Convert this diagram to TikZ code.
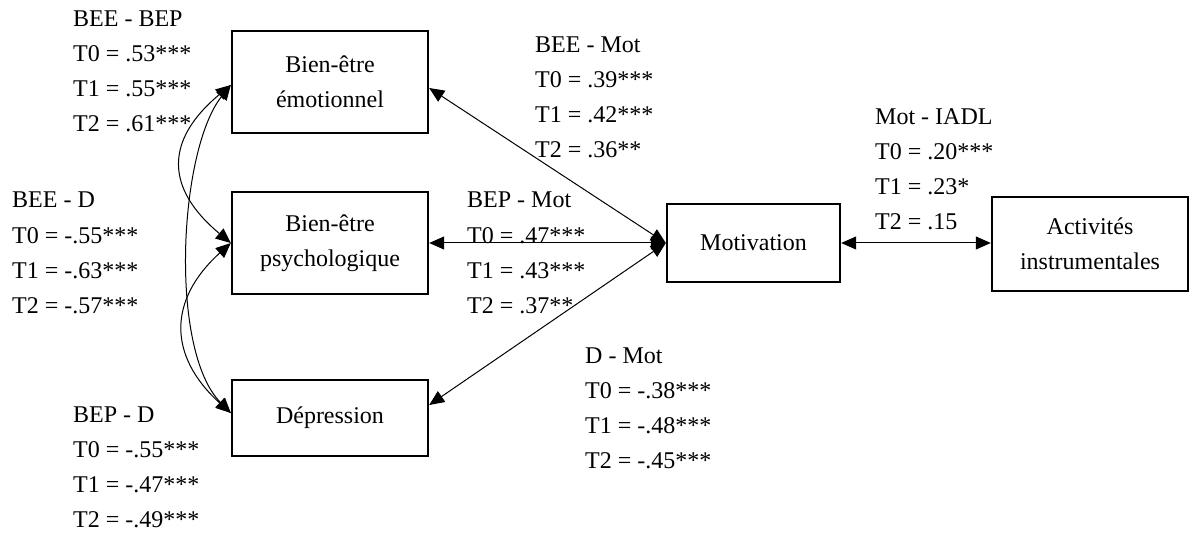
\documentclass[tikz,border=0pt]{standalone}
\usepackage{fontspec}
\setmainfont{Liberation Serif}
\usetikzlibrary{arrows.meta}
\begin{document}
\begin{tikzpicture}[x=1pt,y=-1pt,
  box/.style={draw,line width=2.4pt,rectangle,align=center,inner sep=0pt,
    font=\fontsize{24}{35}\selectfont},
  lbl/.style={anchor=base west,align=left,inner sep=0pt,
    font=\fontsize{24}{35}\selectfont},
  biarrow/.style={{Triangle[length=15pt,width=13pt]}-{Triangle[length=15pt,width=13pt]},line width=1pt}]
\useasboundingbox (0,0) rectangle (1190,534);

\node[box,minimum width=196pt,minimum height=102pt] (bee) at (330,82) {Bien-être\\émotionnel};
\node[box,minimum width=196pt,minimum height=102pt] (bep) at (330,243) {Bien-être\\psychologique};
\node[box,minimum width=196pt,minimum height=76pt] (dep) at (330,418) {Dépression};
\node[box,minimum width=173pt,minimum height=78pt] (mot) at (753.5,243) {Motivation};
\node[box,minimum width=196pt,minimum height=94pt] (act) at (1090,244) {Activités\\instrumentales};

% correlations on the left
\draw[biarrow] ([yshift=-3pt]bee.west) .. controls +(-66,55) and +(-66,-55) .. (bep.west);
\draw[biarrow] ([yshift=-3pt]bee.west) .. controls +(-52,65) and +(-62,-63) .. ([yshift=5pt]dep.west);
\draw[biarrow] (bep.west) .. controls +(-63,57) and +(-63,-57) .. ([yshift=5pt]dep.west);

% paths to motivation
\draw[biarrow] ([yshift=-6pt]bee.east) -- (mot.west);
\draw[biarrow] (bep.east) -- (mot.west);
\draw[biarrow] ([yshift=13pt]dep.east) -- (mot.west);
\draw[biarrow] (mot.east) -- (mot.east -| act.west);

% labels (anchor = baseline of the last line)
\node[lbl] (lbeebep) at (73,132) {BEE - BEP\\T0 = .53***\\T1 = .55***\\T2 = .61***};
\node[lbl] (lbeed) at (12,313) {BEE - D\\T0 = -.55***\\T1 = -.63***\\T2 = -.57***};
\node[lbl] (lbepd) at (73,527) {BEP - D\\T0 = -.55***\\T1 = -.47***\\T2 = -.49***};
\node[lbl] (lbeemot) at (535,158) {BEE - Mot\\T0 = .39***\\T1 = .42***\\T2 = .36**};
\node[lbl] (lbepmot) at (467,313) {BEP - Mot\\T0 = .47***\\T1 = .43***\\T2 = .37**};
\node[lbl] (ldmot) at (585,468) {D - Mot\\T0 = -.38***\\T1 = -.48***\\T2 = -.45***};
\node[lbl] (lmotiadl) at (875,230) {Mot - IADL\\T0 = .20***\\T1 = .23*\\T2 = .15};
\end{tikzpicture}
\end{document}
